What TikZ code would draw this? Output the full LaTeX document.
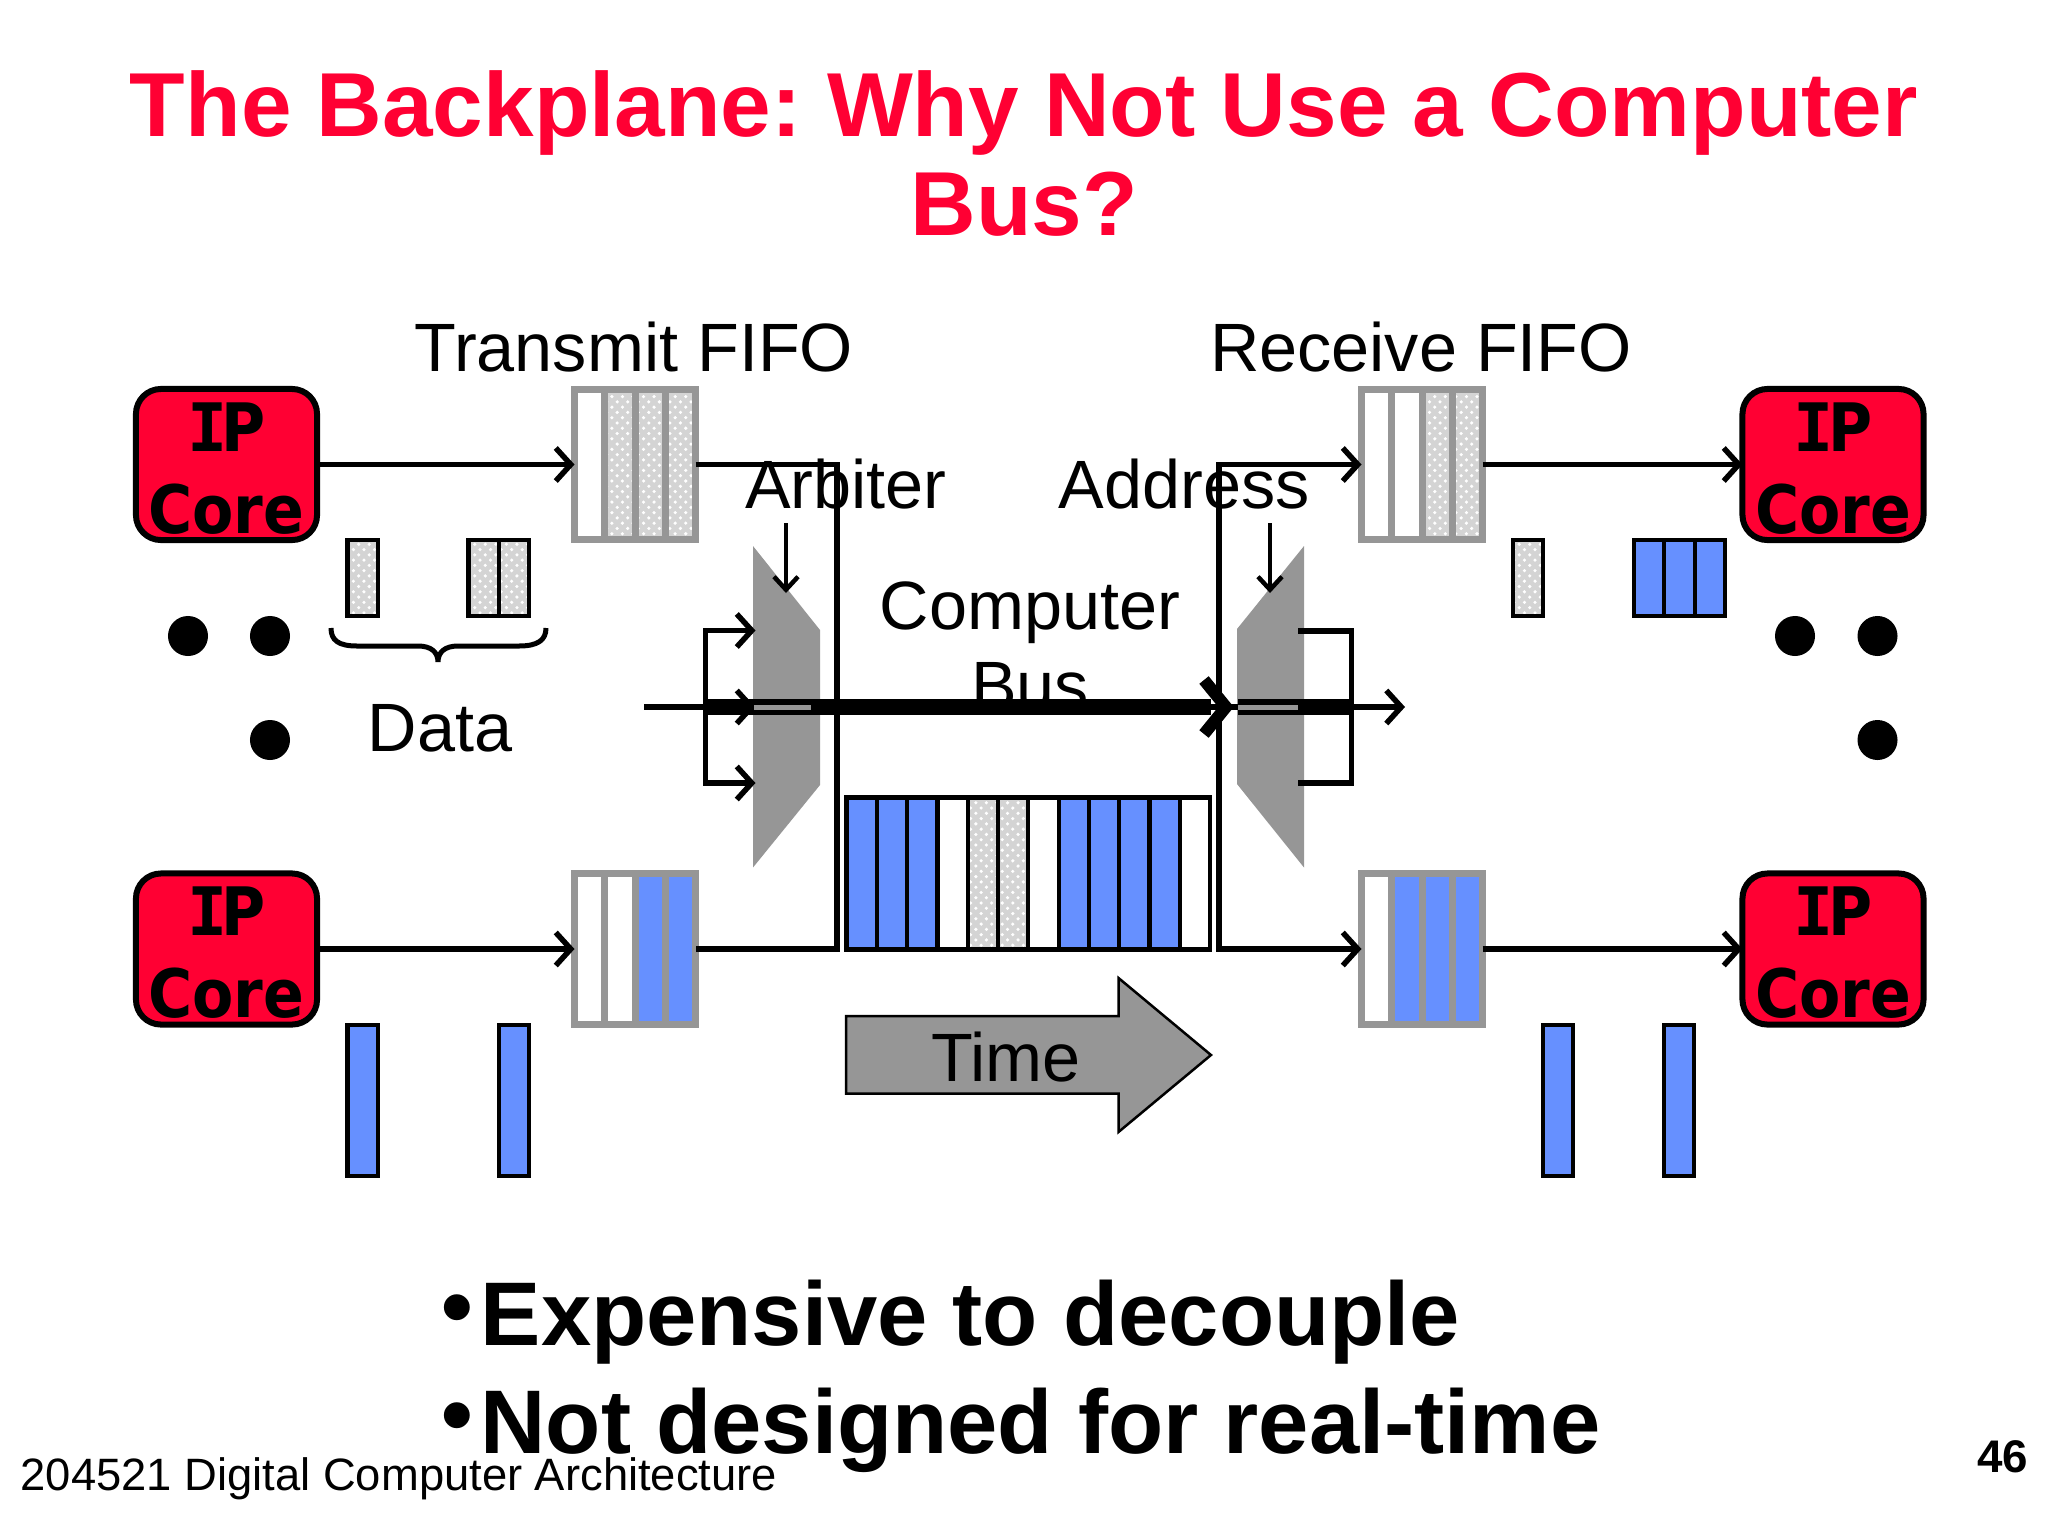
\documentclass[tikz,border=0pt]{standalone}
\usepackage{fontspec}
\setmainfont{Liberation Sans}
\setmonofont{DejaVu Sans Mono}
\newfontfamily\corefont{DejaVu Sans Condensed}
\usetikzlibrary{arrows.meta,patterns}

\definecolor{corered}{HTML}{FF0033}
\definecolor{slotblue}{HTML}{6690FF}
\definecolor{fifogray}{HTML}{969696}
\definecolor{dotgray}{HTML}{D4D4D4}

\tikzset{
  >={Straight Barb[length=0.15cm,width=0.33cm]},
  ipcore/.style={draw=black,fill=corered,line width=0.06cm,rounded corners=0.25cm,
    minimum width=1.81cm,minimum height=1.51cm,inner sep=0pt,outer sep=0pt,align=center,
    font=\corefont\bfseries\fontsize{19pt}{23.3pt}\selectfont},
  fifoframe/.style={draw=fifogray,line width=0.07cm,inner sep=0pt,outer sep=0pt},
  slotframe/.style={draw=black,line width=0.042cm,inner sep=0pt,outer sep=0pt},
  cw/.style={fill=white},
  cb/.style={fill=slotblue},
  cd/.style={fill=dotgray,postaction={pattern=crosshatch dots,pattern color=white}},
  wire/.style={line width=0.055cm},
  busline/.style={line width=0.155cm},
  bighead/.style={line width=0.12cm},
  muxshape/.style={fill=fifogray},
  word/.style={inner sep=0pt,font=\fontsize{19.45pt}{21.9pt}\selectfont},
  titleword/.style={inner sep=0pt,text=corered,align=center,font=\bfseries\fontsize{25.85pt}{28.2pt}\selectfont},
  bulletword/.style={inner sep=0pt,anchor=base west,font=\bfseries\fontsize{25.7pt}{28pt}\selectfont},
}

\def\pitch{30.3}
\newcommand{\ipcoretext}{\rule{0pt}{16pt}{\ttfamily I}\kern-0.08em P\\Core}
\newcommand{\bulletmark}{\raisebox{0.08em}{•}\kern2.1pt}
% name, frame style, left, top, height, number of slots, slot styles
\newcommand{\slotrow}[7]{
  \foreach \c [count=\k from 0] in {#7}
    \path[\c] ({#3+\k*\pitch},#4) rectangle ++(\pitch,#5);
  \node[#2,anchor=north west,minimum width={#6*\pitch*0.01cm},minimum height={#5*0.01cm}] (#1) at (#3,#4) {};
  \foreach \c [count=\k from 0] in {#7}
  {
    \ifnum\k>0 \draw[#2] ({#3+\k*\pitch},#4) -- ++(0,#5); \fi
  }
}

\frenchspacing
\begin{document}
\begin{tikzpicture}[x=0.01cm,y=-0.01cm]
\useasboundingbox (0,0) rectangle (2048,1536);

  % titre
  \node[titleword] (title) at (1024,153.5) {The Backplane: Why Not Use a Computer\\Bus?};

  % IP cores
  \node[ipcore] (coreA) at (226.5,464.5) {\ipcoretext};
  \node[ipcore] (coreB) at (1833,464.5) {\ipcoretext};
  \node[ipcore] (coreC) at (226.5,949) {\ipcoretext};
  \node[ipcore] (coreD) at (1833,949) {\ipcoretext};

  % FIFOs
  \slotrow{fifoTxA}{fifoframe}{574.5}{389.5}{150}{4}{cw,cd,cd,cd}
  \slotrow{fifoRxA}{fifoframe}{1361.5}{389.5}{150}{4}{cw,cw,cd,cd}
  \slotrow{fifoTxB}{fifoframe}{574.5}{873.5}{151}{4}{cw,cw,cb,cb}
  \slotrow{fifoRxB}{fifoframe}{1361.5}{873.5}{151}{4}{cw,cb,cb,cb}

  % data packets
  \slotrow{dataA}{slotframe}{347.5}{540}{76}{1}{cd}
  \slotrow{dataB}{slotframe}{468.5}{540}{76}{2}{cd,cd}
  \slotrow{dataC}{slotframe}{1513}{540}{76}{1}{cd}
  \slotrow{dataD}{slotframe}{1634}{540}{76}{3}{cb,cb,cb}
  \slotrow{barA}{slotframe}{347.5}{1025}{151}{1}{cb}
  \slotrow{barB}{slotframe}{499}{1025}{151}{1}{cb}
  \slotrow{barC}{slotframe}{1543}{1025}{151}{1}{cb}
  \slotrow{barD}{slotframe}{1664}{1025}{151}{1}{cb}
  \slotrow{busSlots}{slotframe}{846.5}{797.5}{152}{12}{cb,cb,cb,cw,cd,cd,cw,cb,cb,cb,cb,cw}

  % ellipses
  \foreach \n/\x/\y in {dotA/188/636,dotB/270/636,dotC/270/740,dotD/1795/636,dotE/1877.5/636,dotF/1877.5/740}
    \fill (\x,\y) circle (0.2cm);

  % brace
  \draw[line width=0.05cm] (331,628) .. controls (331,640) and (338,646) .. (357,646) -- (418,646)
    .. controls (431,646) and (438,652) .. (438,662) .. controls (438,652) and (445,646) .. (458,646)
    -- (519,646) .. controls (538,646) and (546,640) .. (546,628);

  % muxes
  \path[muxshape] (753,546) -- (820,630) -- (820,785) -- (753,867.5) -- cycle;
  \path[muxshape] (1304,546) -- (1237,629) -- (1237,784) -- (1304,867.5) -- cycle;

  % labels
  \node[word,anchor=base] (txLabel) at (634,371) {Transmit FIFO};
  \node[word,anchor=base] (rxLabel) at (1421,371) {Receive FIFO};
  \node[word,anchor=base] (arbLabel) at (846,508) {Arbiter};
  \node[word,anchor=base] (addrLabel) at (1184,508) {Address};
  \node[word,align=center] (busLabel) at (1030,646) {Computer\\[1pt]Bus};
  \node[word,anchor=base] (dataLabel) at (440,751) {Data};

  % wires
  \coordinate (leftV) at (837,707);
  \coordinate (rightV) at (1219,707);
  \draw[wire,->] (coreA.east) -- (fifoTxA.west);
  \draw[wire,->] (coreC.east) -- (fifoTxB.west);
  \draw[wire,->] (fifoRxA.east) -- (coreB.west);
  \draw[wire,->] (fifoRxB.east) -- (coreD.west);
  \draw[wire] (fifoTxA.east) -| (leftV) |- (fifoTxB.east);
  \draw[wire,<->] (fifoRxA.west) -| (rightV) |- (fifoRxB.west);

  % arbiter and address arrows
  \coordinate (arbTop) at (786,523);
  \coordinate (arbTip) at (786,593);
  \coordinate (addrTop) at (1270,523);
  \coordinate (addrTip) at (1270,593);
  \draw[line width=0.045cm,->,>={Straight Barb[length=0.13cm,width=0.24cm]}] (arbTop) -- (arbTip);
  \draw[line width=0.045cm,->,>={Straight Barb[length=0.13cm,width=0.24cm]}] (addrTop) -- (addrTip);

  % bus
  \coordinate (busIn) at (644,707);
  \coordinate (busOut) at (1405,707);
  \coordinate (muxLeftIn) at (705.5,707);
  \coordinate (muxLeftA) at (755.5,630.5);
  \coordinate (muxLeftB) at (755.5,707);
  \coordinate (muxLeftC) at (755.5,783);
  \coordinate (muxRightA) at (1298,631);
  \coordinate (muxRightB) at (1238,707);
  \coordinate (muxRightC) at (1298,783);
  \coordinate (muxRightOut) at (1351.5,707);
  \coordinate (busEnd) at (1211,707);
  \coordinate (busTip) at (1226,707);
  \draw[wire,->] (busIn) -- (busOut);
  \draw[wire,->] (muxLeftIn) |- (muxLeftA);
  \draw[wire,->] (muxLeftIn) -- (muxLeftB);
  \draw[wire,->] (muxLeftIn) |- (muxLeftC);
  \draw[wire] (muxRightA) -| (muxRightOut) |- (muxRightC);
  \draw[busline] (muxLeftIn) -- (busEnd);
  \draw[bighead] (1204,680) -- (busTip) -- (1204,734);
  \draw[busline] (muxRightB) -- (muxRightOut);
  \fill[fifogray] (754,704.5) rectangle (811,709.5);
  \fill[fifogray] (1238,704.5) rectangle (1298,709.5);

  % time arrow
  \draw[fill=fifogray,line width=0.025cm] (846,1016) -- (1118.5,1016) -- (1118.5,978) -- (1211,1055) -- (1118.5,1132) -- (1118.5,1093.5) -- (846,1093.5) -- cycle;
  \node[word,anchor=base] (timeLabel) at (1006,1081.5) {Time};

  % bottom text
  \node[bulletword] (bulletA) at (441,1345) {\bulletmark Expensive to decouple};
  \node[bulletword] (bulletB) at (441,1453) {\bulletmark Not designed for real-time};
  \node[inner sep=0pt,anchor=base west,font=\fontsize{12.9pt}{15pt}\selectfont] (footer) at (20,1490) {204521 Digital Computer Architecture};
  \node[inner sep=0pt,anchor=base east,font=\bfseries\fontsize{13pt}{15pt}\selectfont] (pageNo) at (2029,1472) {46};

\end{tikzpicture}
\end{document}
